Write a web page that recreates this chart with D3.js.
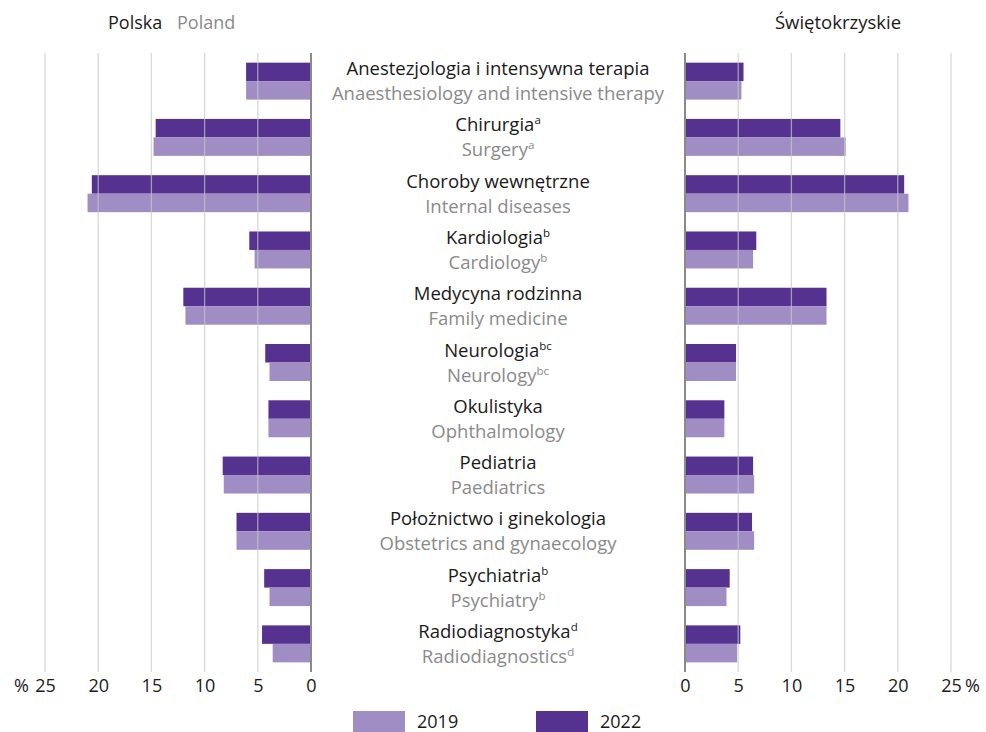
<!DOCTYPE html>
<html>
<head>
<meta charset="utf-8">
<script src="https://cdn.jsdelivr.net/npm/d3@7"></script>
<style>
  html, body { margin: 0; padding: 0; background: #fff; }
  svg { display: block; font-family: "Open Sans", "Noto Sans", sans-serif; }
</style>
</head>
<body>
<svg id="chart" width="986" height="732"></svg>
<script>
// Specialisations (Polish name, English name, footnote mark)
const categoriesPl = [
  "Anestezjologia i intensywna terapia", "Chirurgia", "Choroby wewnętrzne",
  "Kardiologia", "Medycyna rodzinna", "Neurologia", "Okulistyka",
  "Pediatria", "Położnictwo i ginekologia", "Psychiatria", "Radiodiagnostyka"
];
const categoriesEn = [
  "Anaesthesiology and intensive therapy", "Surgery", "Internal diseases",
  "Cardiology", "Family medicine", "Neurology", "Ophthalmology",
  "Paediatrics", "Obstetrics and gynaecology", "Psychiatry", "Radiodiagnostics"
];
const footnotes = ["", "a", "", "b", "", "bc", "", "", "", "b", "d"];

const years = ["2022", "2019"];

// Share of physicians by specialisation, %
const poland2019 = [6.1, 14.8, 21.0, 5.3, 11.8, 3.9, 4.0, 8.2, 7.0, 3.9, 3.6];
const poland2022 = [6.1, 14.6, 20.6, 5.8, 12.0, 4.3, 4.0, 8.3, 7.0, 4.4, 4.6];
const region2019 = [5.3, 15.1, 21.0, 6.4, 13.3, 4.8, 3.7, 6.5, 6.5, 3.9, 4.9];
const region2022 = [5.5, 14.6, 20.6, 6.7, 13.3, 4.8, 3.7, 6.4, 6.3, 4.2, 5.2];

const tickValues = [0, 5, 10, 15, 20, 25];

const colors = { "2019": "#a08dc3", "2022": "#553190" };

const svg = d3.select("#chart");

const xLeft = d3.scaleLinear().domain([0, 25]).range([311, 45]);
const xRight = d3.scaleLinear().domain([0, 25]).range([685, 951]);
const y = d3.scaleBand().domain(categoriesPl).range([53, 672])
  .paddingInner(0.343).paddingOuter(0.1715);
const ySub = d3.scaleBand().domain(years).range([0, y.bandwidth()]);

const rows = categoriesPl.map((c, i) => ({
  pl: c, en: categoriesEn[i], note: footnotes[i],
  left: { "2019": poland2019[i], "2022": poland2022[i] },
  right: { "2019": region2019[i], "2022": region2022[i] }
}));

// Bars
function drawBars(side, x) {
  const g = svg.append("g");
  rows.forEach(r => {
    years.forEach(yr => {
      const v = r[side][yr];
      const x0 = x(0), x1 = x(v);
      g.append("rect")
        .attr("x", Math.min(x0, x1))
        .attr("width", Math.abs(x1 - x0))
        .attr("y", y(r.pl) + ySub(yr))
        .attr("height", ySub.bandwidth())
        .attr("fill", colors[yr]);
    });
  });
}
drawBars("left", xLeft);
drawBars("right", xRight);

// Grid lines, drawn over the bars
function drawGrid(x) {
  svg.append("g").selectAll("line")
    .data(tickValues.filter(d => d !== 0))
    .join("line")
    .attr("x1", d => x(d)).attr("x2", d => x(d))
    .attr("y1", 53).attr("y2", 672)
    .attr("stroke", "#c8c8c8").attr("stroke-opacity", 0.7)
    .attr("stroke-width", 1.3);
}
drawGrid(xLeft);
drawGrid(xRight);

// Axes
function drawAxis(x) {
  const axis = d3.axisBottom(x).tickValues(tickValues).tickSize(0).tickPadding(0);
  const g = svg.append("g").attr("transform", "translate(0,672)").call(axis);
  g.select(".domain").remove();
  g.selectAll("text")
    .attr("dy", null).attr("y", 20)
    .attr("font-size", 18).attr("font-family", "Open Sans, sans-serif")
    .attr("fill", "#1a1a1a");
  svg.append("line")
    .attr("x1", x(0)).attr("x2", x(0)).attr("y1", 53).attr("y2", 672)
    .attr("stroke", "#8a8a8a").attr("stroke-width", 2);
}
drawAxis(xLeft);
drawAxis(xRight);

svg.append("text").attr("x", 29).attr("y", 692).attr("text-anchor", "end")
  .attr("font-size", 18).attr("fill", "#1a1a1a").text("%");
svg.append("text").attr("x", 965).attr("y", 692).attr("text-anchor", "start")
  .attr("font-size", 18).attr("fill", "#1a1a1a").text("%");

// Category labels
const labels = svg.append("g").attr("text-anchor", "middle").attr("font-size", 18.5);
rows.forEach(r => {
  const cy = y(r.pl) + y.bandwidth() / 2;
  const t1 = labels.append("text").attr("x", 498).attr("y", cy - 6).attr("fill", "#1a1a1a");
  t1.append("tspan").text(r.pl);
  if (r.note) t1.append("tspan").attr("font-size", 11.5).attr("dy", -7).text(r.note);
  const t2 = labels.append("text").attr("x", 498).attr("y", cy + 19).attr("fill", "#8a8a8a");
  t2.append("tspan").text(r.en);
  if (r.note) t2.append("tspan").attr("font-size", 11.5).attr("dy", -7).text(r.note);
});

// Panel titles
svg.append("text").attr("x", 108).attr("y", 29).attr("font-size", 18)
  .attr("fill", "#1a1a1a").text("Polska");
svg.append("text").attr("x", 177).attr("y", 29).attr("font-size", 18)
  .attr("fill", "#8a8a8a").text("Poland");
svg.append("text").attr("x", 838).attr("y", 29).attr("font-size", 18.5)
  .attr("text-anchor", "middle").attr("fill", "#1a1a1a").text("Świętokrzyskie");

// Legend
const legend = [
  { year: "2019", x: 353 },
  { year: "2022", x: 536 }
];
legend.forEach(l => {
  svg.append("rect").attr("x", l.x).attr("y", 711).attr("width", 52).attr("height", 21)
    .attr("fill", colors[l.year]);
  svg.append("text").attr("x", l.x + 64).attr("y", 728).attr("font-size", 18)
    .attr("fill", "#1a1a1a").text(l.year);
});
</script>
</body>
</html>
